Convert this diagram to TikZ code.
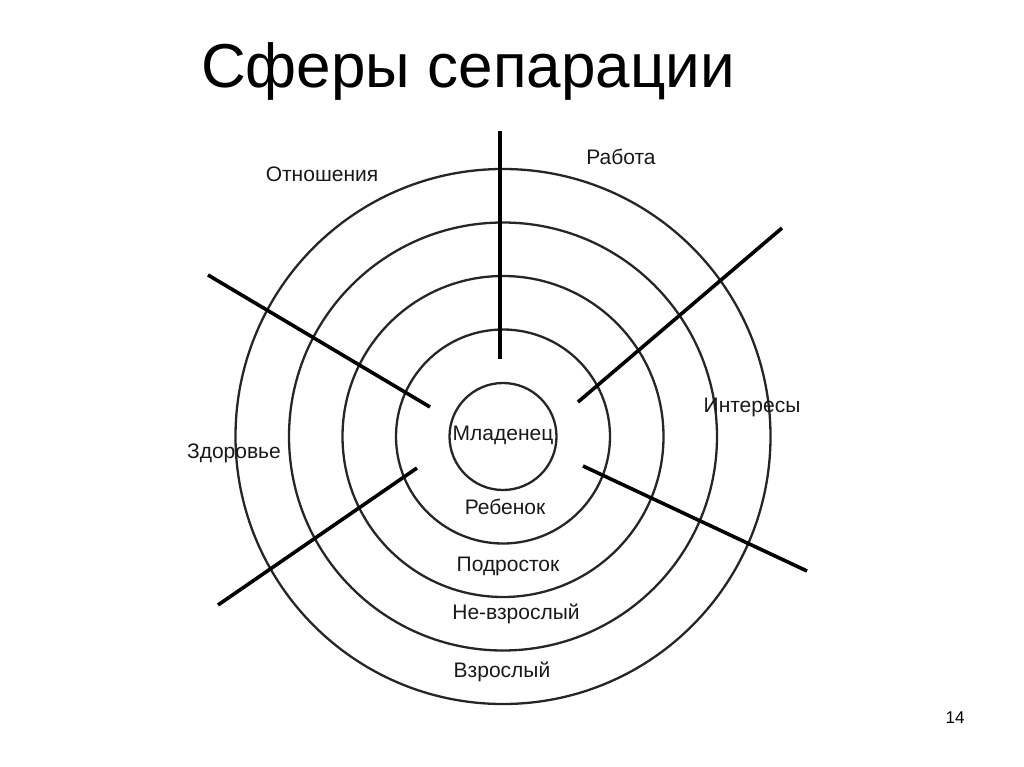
\documentclass[tikz,border=0pt]{standalone}
\usepackage{fontspec}
\setmainfont{Liberation Sans}
\begin{document}
\begin{tikzpicture}[x=1pt,y=-1pt,
  ring/.style={draw=black!85, line width=2.3pt},
  spoke/.style={draw=black, line width=3.6pt},
  lbl/.style={font=\fontsize{21}{24}\selectfont, text=black!90, inner sep=0pt},
  ttl/.style={font=\fontsize{62}{70}\selectfont, inner sep=0pt, anchor=base}]
\useasboundingbox (0,0) rectangle (1024,767);
\coordinate (c) at (503,436.5);
\foreach \k in {1,...,5}{
  \draw[ring] (c) circle[radius={53.5*\k}];
}
% spokes
\coordinate (v1) at (500,131);   \coordinate (v2) at (500,359);
\coordinate (a1) at (208,275);   \coordinate (a2) at (430,407);
\coordinate (b1) at (782,228);   \coordinate (b2) at (578,402);
\coordinate (d1) at (417,468);   \coordinate (d2) at (218,605);
\coordinate (e1) at (583,466);   \coordinate (e2) at (807,571);
\draw[spoke] (v1) -- (v2);
\draw[spoke] (a1) -- (a2);
\draw[spoke] (b1) -- (b2);
\draw[spoke] (d1) -- (d2);
\draw[spoke] (e1) -- (e2);
% title
\node[ttl] (title) at (468,88) {Сферы сепарации};
% ring labels
\node[lbl] (l1) at (503,435) {Младенец};
\node[lbl] (l2) at (505,507) {Ребенок};
\node[lbl] (l3) at (508,566) {Подросток};
\node[lbl] (l4) at (516,614) {Не-взрослый};
\node[lbl] (l5) at (502,672) {Взрослый};
% sphere labels
\node[lbl] (s1) at (322,174) {Отношения};
\node[lbl] (s2) at (621,157) {Работа};
\node[lbl] (s3) at (752,407) {Интересы};
\node[lbl] (s4) at (234,453) {Здоровье};
% page number
\node[font=\fontsize{17}{19}\selectfont, inner sep=0pt] (pg) at (955,718) {14};
\end{tikzpicture}
\end{document}
